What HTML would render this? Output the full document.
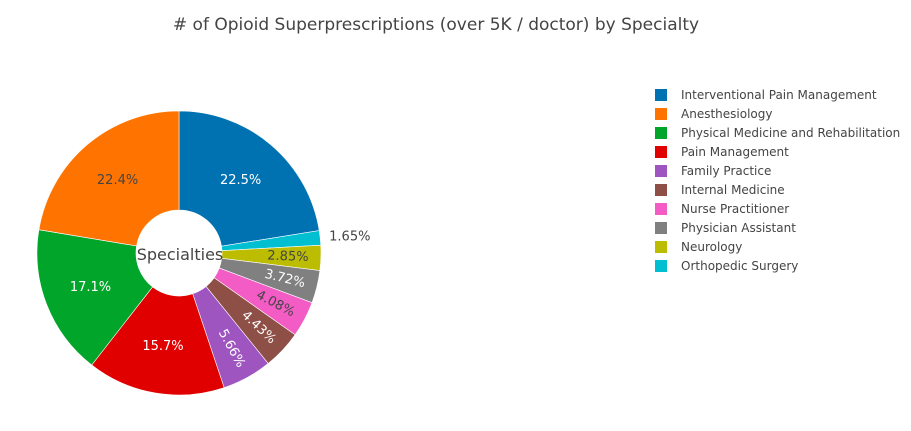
<!DOCTYPE html>
<html><head><meta charset="utf-8"><style>
body{margin:0;background:#fff;}
svg{display:block;font-family:"DejaVu Sans","Liberation Sans",sans-serif;}
</style></head><body>
<svg id="chart" width="911" height="431" viewBox="0 0 911 431">
<text x="436" y="30" text-anchor="middle" font-size="17" fill="#444">&#35; of Opioid Superprescriptions (over 5K / doctor) by Specialty</text>
<g id="slices"></g>
<g id="labels"></g>
<text x="180" y="260" text-anchor="middle" font-size="16" fill="#444">Specialties</text>
<g id="legend"></g>
</svg>
<script>
const categories = ["Interventional Pain Management","Anesthesiology","Physical Medicine and Rehabilitation","Pain Management","Family Practice","Internal Medicine","Nurse Practitioner","Physician Assistant","Neurology","Orthopedic Surgery"];
const values = [22.5,22.4,17.1,15.7,5.66,4.43,4.08,3.72,2.85,1.65];
const colors = ["#1f77b4","#ff7f0e","#2ca02c","#d62728","#9467bd","#8c564b","#e377c2","#7f7f7f","#bcbd22","#17becf"];
const plotlyColors = ["#0072b2","#ff7400","#00a529","#e00000","#9e55c0","#8e4f46","#f25cc4","#808080","#bcbd00","#00bfd1"];
const textDark = [false,true,false,false,false,false,true,false,true,true];

const NS="http://www.w3.org/2000/svg";
const cx=179, cy=253, R=142, r0=43;
const total=values.reduce((a,b)=>a+b,0);
const order=[0,9,8,7,6,5,4,3,2,1]; // clockwise from top
const sg=document.getElementById('slices'), lg=document.getElementById('labels');
function pt(a,rad){return [cx+rad*Math.sin(a), cy-rad*Math.cos(a)];}
let acc=0;
order.forEach(i=>{
  const a0=acc/total*2*Math.PI; acc+=values[i]; const a1=acc/total*2*Math.PI;
  const large=(a1-a0)>Math.PI?1:0;
  const [x0,y0]=pt(a0,R),[x1,y1]=pt(a1,R),[x2,y2]=pt(a1,r0),[x3,y3]=pt(a0,r0);
  const p=document.createElementNS(NS,'path');
  p.setAttribute('d',`M${x0},${y0}A${R},${R} 0 ${large} 1 ${x1},${y1}L${x2},${y2}A${r0},${r0} 0 ${large} 0 ${x3},${y3}Z`);
  p.setAttribute('fill',plotlyColors[i]);p.setAttribute('stroke','#fff');p.setAttribute('stroke-width','0.6');
  
  
  sg.appendChild(p);
  const am=(a0+a1)/2, pct=values[i]/total*100;
  const t=document.createElementNS(NS,'text');
  t.textContent=values[i].toFixed(values[i]<10?2:1)+'%';
  t.setAttribute('font-size','13');t.setAttribute('text-anchor','middle');t.setAttribute('dominant-baseline','central');
  if(pct<2){
    const [x,y]=pt(am,R+8);
    t.setAttribute('x',x+1);t.setAttribute('y',y);t.setAttribute('text-anchor','start');t.setAttribute('fill','#444');
  } else if(pct<7){
    const [x,y]=pt(am,R-33);
    const deg=am*180/Math.PI-90;
    t.setAttribute('x',x);t.setAttribute('y',y);
    t.setAttribute('transform',`rotate(${deg} ${x} ${y})`);
    t.setAttribute('fill',textDark[i]?'#444':'#fff');
  } else {
    const [x,y]=pt(am,95);
    t.setAttribute('x',x);t.setAttribute('y',y);t.setAttribute('fill',textDark[i]?'#444':'#fff');
  }
  
  
  lg.appendChild(t);
});
const leg=document.getElementById('legend');
categories.forEach((c,i)=>{
  const g=document.createElementNS(NS,'g');
  
  
  const y=95+i*19;
  const s=document.createElementNS(NS,'rect');
  s.setAttribute('x',655);s.setAttribute('y',y-6);s.setAttribute('width',12);s.setAttribute('height',12);s.setAttribute('fill',plotlyColors[i]);
  const t=document.createElementNS(NS,'text');
  t.setAttribute('x',681);t.setAttribute('y',y);t.setAttribute('dominant-baseline','central');t.setAttribute('font-size','12');t.setAttribute('fill','#444');
  t.textContent=c;
  g.appendChild(s);g.appendChild(t);leg.appendChild(g);
});
</script>
</body></html>
